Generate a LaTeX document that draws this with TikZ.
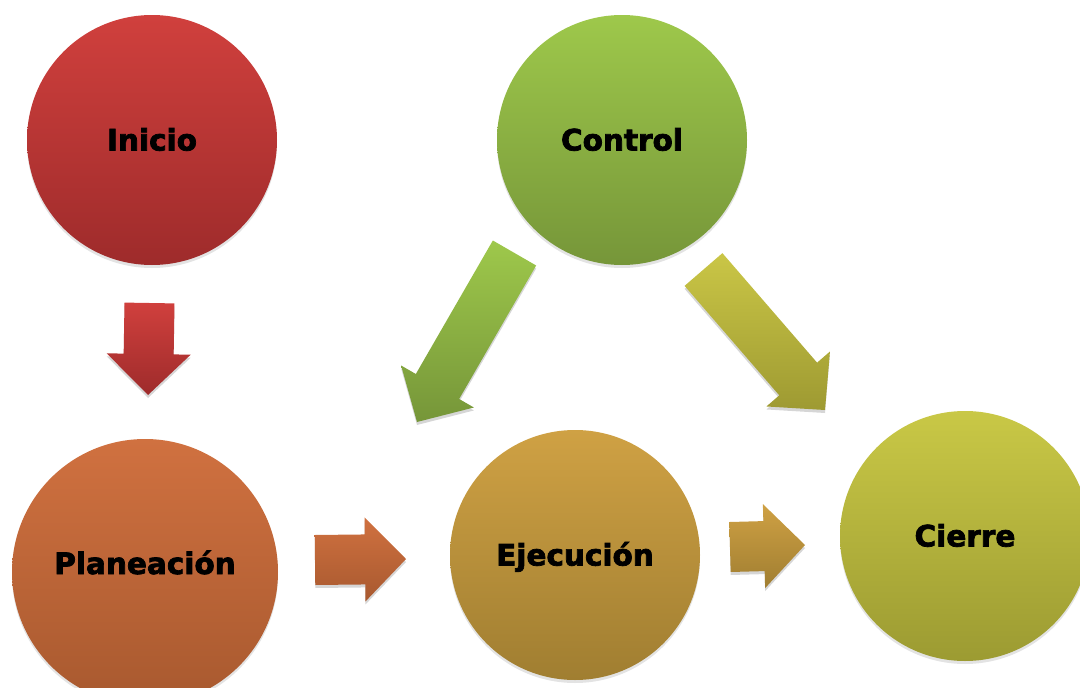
\documentclass[tikz,border=0pt]{standalone}
\usepackage{fontspec}
\setmainfont{DejaVu Sans}[BoldFeatures={FakeBold=2.5}]
\usepackage{tikz}
\usetikzlibrary{positioning}
\usetikzlibrary{shapes, calc}
\usetikzlibrary{shadows}

\definecolor{iniTop}{RGB}{208,64,61}
\definecolor{iniBot}{RGB}{158,43,43}
\definecolor{ctlTop}{RGB}{158,200,75}
\definecolor{ctlBot}{RGB}{118,150,57}
\definecolor{plaTop}{RGB}{208,113,64}
\definecolor{plaBot}{RGB}{168,89,47}
\definecolor{ejeTop}{RGB}{207,161,68}
\definecolor{ejeBot}{RGB}{160,126,49}
\definecolor{ciTop}{RGB}{201,200,70}
\definecolor{ciBot}{RGB}{156,155,50}
\definecolor{ylTop}{RGB}{202,198,70}
\definecolor{ylBot}{RGB}{158,154,50}

% block arrow: tail, tip, top colour, bottom colour
\newcommand{\blockarrow}[4]{%
    \coordinate (headbase) at ($(#2)!41pt!(#1)$);
    \fill[black,opacity=0.16,transform canvas={yshift=-3pt}]
        ($(#1)!25pt!90:(#2)$) -- ($(headbase)!25pt!90:(#2)$) --
        ($(headbase)!42pt!90:(#2)$) -- (#2) --
        ($(headbase)!42pt!-90:(#2)$) -- ($(headbase)!25pt!-90:(#2)$) --
        ($(#1)!25pt!-90:(#2)$) -- cycle;
    \shade[top color=#3,bottom color=#4]
        ($(#1)!25pt!90:(#2)$) -- ($(headbase)!25pt!90:(#2)$) --
        ($(headbase)!42pt!90:(#2)$) -- (#2) --
        ($(headbase)!42pt!-90:(#2)$) -- ($(headbase)!25pt!-90:(#2)$) --
        ($(#1)!25pt!-90:(#2)$) -- cycle;
}

\tikzset{
    phase/.style={circle, inner sep=0pt, minimum size=250pt,
        font=\bfseries\fontsize{29.5}{34}\selectfont,
        text height=21pt, text depth=0pt,
        drop shadow={opacity=0.22, shadow xshift=0pt, shadow yshift=-3pt}},
}

\begin{document}
\begin{tikzpicture}[x=1pt, y=-1pt]
    \useasboundingbox (0,0) rectangle (1080,688);

    % phases
    \node[phase, top color=iniTop, bottom color=iniBot] (inicio) at (152,140) {Inicio};
    \node[phase, top color=ctlTop, bottom color=ctlBot] (control) at (622,140) {Control};
    \node[phase, minimum size=266pt, text depth=17pt,
        top color=plaTop, bottom color=plaBot] (plan) at (145,572) {Planeación};
    \node[phase, top color=ejeTop, bottom color=ejeBot] (ejec) at (575,555) {Ejecución};
    \node[phase, top color=ciTop, bottom color=ciBot] (cierre) at (965,536) {Cierre};

    % arrow ends
    \coordinate (ini-t) at (149.5,303);
    \coordinate (ini-h) at (148,395);
    \coordinate (pla-t) at (315,560);
    \coordinate (pla-h) at (406,559);
    \coordinate (eje-t) at (730,547);
    \coordinate (eje-h) at (805,545);
    \coordinate (ctl-t) at (514.5,253);
    \coordinate (ctl-h) at (417,422);
    \coordinate (ci-t) at (703.5,269.5);
    \coordinate (ci-h) at (825,410);

    \blockarrow{ini-t}{ini-h}{iniTop}{iniBot}
    \blockarrow{pla-t}{pla-h}{plaTop}{plaBot}
    \blockarrow{eje-t}{eje-h}{ejeTop}{ejeBot}
    \blockarrow{ctl-t}{ctl-h}{ctlTop}{ctlBot}
    \blockarrow{ci-t}{ci-h}{ylTop}{ylBot}

\end{tikzpicture}
\end{document}
